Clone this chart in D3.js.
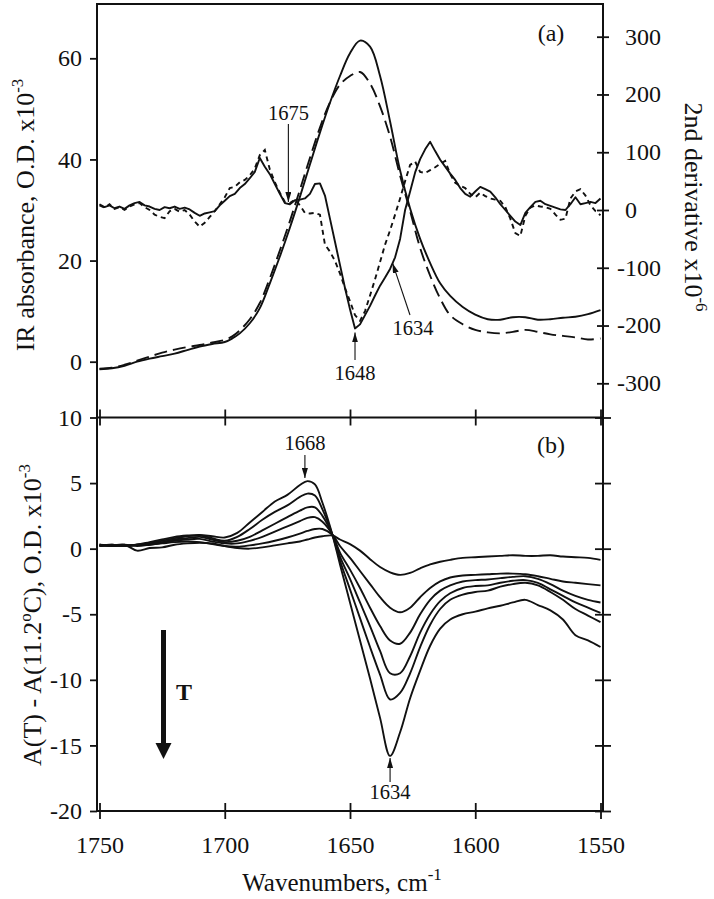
<!DOCTYPE html>
<html><head><meta charset="utf-8">
<script src="https://cdn.jsdelivr.net/npm/d3@7"></script>
<style>body{margin:0;background:#fff}svg{display:block}</style>
</head><body>
<svg id="c" width="714" height="899"></svg>
<script>
// ---------------- DATA ----------------
// Panel (a): absorbance (x10^-3), solid and dashed spectra
const wnAbs = [1750,1745,1740,1735,1730,1725,1720,1715,1710,1705,1700,1697,1694,1690,1686,1682,1678,1674,1670,1666,1662,1658,1654,1650,1646,1642,1638,1634,1630,1626,1622,1618,1614,1610,1605,1600,1595,1590,1585,1580,1575,1570,1565,1560,1555,1550];
const absSolid = [-1.5,-1.3,-0.8,0.0,0.6,1.1,1.6,2.3,3.0,3.5,3.9,4.6,5.6,7.6,10.6,15.5,20.8,26.5,32.6,39.0,45.3,51.2,56.5,61.0,63.5,62.3,56.5,47.5,37.8,30.3,24.3,19.5,15.5,13.0,10.8,9.3,8.4,8.3,8.8,8.8,8.3,8.4,8.7,8.9,9.4,10.2];
const absDashed = [-1.4,-1.2,-0.6,0.2,1.0,1.8,2.4,2.9,3.3,3.8,4.3,5.0,6.2,8.4,11.6,16.5,22.0,27.8,34.0,40.3,46.3,51.3,54.8,56.5,57.3,55.0,50.5,44.5,36.8,29.8,22.5,17.0,12.5,9.2,7.4,6.3,5.8,5.6,5.9,6.3,5.9,5.4,5.1,4.8,4.4,4.6];

// Panel (a): second derivative (x10^-6), solid and dotted
const wnDer = [1750,1748,1746,1744,1742,1740,1738,1736,1734,1732,1730,1728,1726,1724,1722,1720,1718,1716,1714,1712,1710,1708,1706,1704,1702,1700,1698,1696,1694,1692,1690,1688,1686,1684,1682,1680,1678,1676,1674,1672,1670,1668,1666,1664,1662,1660,1658,1656,1654,1652,1650,1648,1646,1644,1642,1640,1638,1636,1634,1632,1630,1628,1626,1624,1622,1620,1618,1616,1614,1612,1610,1608,1606,1604,1602,1600,1598,1596,1594,1592,1590,1588,1586,1584,1582,1580,1578,1576,1574,1572,1570,1568,1566,1564,1562,1560,1558,1556,1554,1552,1550];
const derSolid = [10,5,8,3,6,2,8,12,14,8,6,2,0,5,3,6,2,4,1,-5,-10,-6,-4,-2,8,16,24,28,38,45,55,66,90,75,62,45,28,12,10,17,18,20,28,45,46,25,-15,-55,-95,-135,-172,-205,-198,-182,-166,-148,-131,-117,-102,-82,-50,0,32,65,88,105,118,102,87,75,63,52,38,28,23,32,40,36,32,22,10,0,-10,-20,-26,-5,5,14,16,10,7,4,1,0,10,22,10,12,14,12,20];
const derDotted = [8,4,10,2,5,0,6,10,12,5,0,-8,-12,-14,-2,2,-3,0,-8,-20,-29,-22,-12,-2,10,22,38,40,48,52,60,72,95,104,70,48,30,14,12,18,8,-5,-6,-5,-8,-60,-72,-88,-110,-135,-158,-182,-192,-175,-148,-120,-90,-60,-35,-8,20,50,78,84,66,64,69,74,80,85,62,47,42,38,28,22,30,24,20,18,16,5,-15,-40,-45,-10,4,8,6,5,2,-8,-17,-15,20,32,36,25,8,-2,-9];

// Panel (b): difference spectra A(T)-A(11.2C) (x10^-3), six temperatures
const wnDiff = [1750,1745,1740,1735,1730,1725,1720,1715,1710,1705,1700,1695,1690,1685,1680,1675,1670,1667,1664,1661,1657,1654,1650,1646,1642,1638,1634,1630,1626,1622,1618,1614,1610,1605,1600,1595,1590,1585,1580,1575,1570,1565,1560,1555,1550];
const diff1 = [0.3,0.25,0.3,-0.15,0.05,0.1,0.3,0.4,0.45,0.4,0.2,0.05,0.0,0.1,0.25,0.4,0.55,0.7,0.85,0.95,1.0,0.7,0.35,-0.15,-0.8,-1.4,-1.8,-2.0,-1.85,-1.5,-1.2,-1.0,-0.85,-0.7,-0.65,-0.6,-0.55,-0.5,-0.55,-0.55,-0.5,-0.6,-0.65,-0.7,-0.85];
const diff2 = [0.2,0.3,0.2,0.3,0.3,0.4,0.5,0.55,0.5,0.35,0.2,0.15,0.25,0.4,0.6,0.85,1.15,1.35,1.5,1.5,1.05,0.2,-0.7,-1.7,-2.7,-3.7,-4.5,-4.85,-4.5,-3.7,-3.0,-2.5,-2.2,-2.05,-2.0,-1.95,-1.9,-1.9,-1.95,-2.1,-2.3,-2.5,-2.6,-2.7,-2.8];
const diff3 = [0.3,0.2,0.3,0.2,0.3,0.45,0.6,0.7,0.75,0.55,0.4,0.4,0.6,0.9,1.3,1.7,2.1,2.35,2.4,2.05,1.05,-0.3,-1.6,-3.0,-4.5,-5.9,-7.0,-7.25,-6.4,-5.0,-3.9,-3.2,-2.8,-2.5,-2.4,-2.35,-2.25,-2.15,-2.1,-2.3,-2.7,-3.2,-3.6,-3.9,-4.1];
const diff4 = [0.2,0.3,0.2,0.3,0.4,0.5,0.7,0.8,0.9,0.7,0.5,0.6,0.9,1.4,1.9,2.4,2.9,3.15,3.15,2.5,1.05,-0.6,-2.3,-4.1,-5.9,-7.8,-9.5,-9.5,-8.2,-6.4,-5.0,-4.0,-3.4,-3.0,-2.85,-2.8,-2.6,-2.45,-2.4,-2.6,-3.1,-3.6,-4.1,-4.5,-4.9];
const diff5 = [0.3,0.2,0.25,0.3,0.4,0.6,0.8,0.95,1.0,0.8,0.6,0.9,1.5,2.2,2.8,3.3,3.95,4.2,4.05,3.0,1.05,-0.9,-3.1,-5.3,-7.5,-9.6,-11.5,-11.0,-9.5,-7.5,-5.8,-4.6,-3.9,-3.5,-3.3,-3.2,-2.9,-2.7,-2.6,-2.8,-3.3,-3.9,-4.6,-5.1,-5.6];
const diff6 = [0.2,0.25,0.2,0.3,0.5,0.7,0.9,1.0,1.05,0.95,0.85,1.2,2.0,2.8,3.6,4.1,4.85,5.15,4.9,3.5,1.05,-1.2,-4.1,-7.0,-9.9,-12.9,-15.8,-14.0,-11.4,-9.3,-7.4,-6.1,-5.4,-5.0,-4.8,-4.55,-4.35,-4.1,-3.9,-4.3,-4.7,-5.4,-6.6,-7.0,-7.5];
const diffSeries = [diff1, diff2, diff3, diff4, diff5, diff6];

// Tick labels
const xTicks = [1750,1700,1650,1600,1550];
const absTicks = [0,20,40,60];
const derTicks = [300,200,100,0,-100,-200,-300];
const diffTicks = [10,5,0,-5,-10,-15,-20];

// ---------------- DRAWING ----------------
const FONT = '"Liberation Serif","Times New Roman",Times,serif';
const svg = d3.select('#c').attr('font-family', FONT);
const INK = '#111';
const L = 97, R = 603, TOP = 4, MID = 417.5, BOT = 811;
const fmt = d => String(d);

const x = d3.scaleLinear().domain([1750,1550]).range([99.5,600.5]);
const yAbs = d3.scaleLinear().domain([0,60]).range([361.7,58.3]);
const yDer = d3.scaleLinear().domain([-300,300]).range([383.3,36.7]);
const yDiff = d3.scaleLinear().domain([-20,10]).range([BOT, MID]);

const defs = svg.append('defs');
defs.append('clipPath').attr('id','clipA').append('rect').attr('x',L).attr('y',TOP).attr('width',R-L).attr('height',MID-TOP);
defs.append('clipPath').attr('id','clipB').append('rect').attr('x',L).attr('y',MID).attr('width',R-L).attr('height',BOT-MID);
defs.append('marker').attr('id','ah').attr('viewBox','0 0 10 6').attr('refX',10).attr('refY',3)
  .attr('markerWidth',10).attr('markerHeight',6).attr('markerUnits','userSpaceOnUse').attr('orient','auto')
  .append('path').attr('d','M0,0L10,3L0,6Z').attr('fill',INK);

// curves panel (a)
const gA = svg.append('g').attr('clip-path','url(#clipA)');
const lineAbs = d3.line().x((d,i)=>x(wnAbs[i])).y(d=>yAbs(d)).curve(d3.curveCatmullRom.alpha(0.5));
const lineDer = d3.line().x((d,i)=>x(wnDer[i])).y(d=>yDer(d)).curve(d3.curveLinear);
gA.append('path').attr('d',lineAbs(absSolid)).attr('fill','none').attr('stroke',INK).attr('stroke-width',1.9);
gA.append('path').attr('d',lineAbs(absDashed)).attr('fill','none').attr('stroke',INK).attr('stroke-width',1.9).attr('stroke-dasharray','13,6');
gA.append('path').attr('d',lineDer(derSolid)).attr('fill','none').attr('stroke',INK).attr('stroke-width',1.9).attr('stroke-linejoin','round');
gA.append('path').attr('d',lineDer(derDotted)).attr('fill','none').attr('stroke',INK).attr('stroke-width',1.9).attr('stroke-dasharray','5,4');

// curves panel (b)
const gB = svg.append('g').attr('clip-path','url(#clipB)');
const lineDiff = d3.line().x((d,i)=>x(wnDiff[i])).y(d=>yDiff(d)).curve(d3.curveCatmullRom.alpha(0.5));
diffSeries.forEach(s=>{
  gB.append('path').attr('d',lineDiff(s)).attr('fill','none').attr('stroke',INK).attr('stroke-width',1.9);
});

// frame
const frame = svg.append('g').attr('stroke',INK).attr('stroke-width',2).attr('fill','none');
frame.append('rect').attr('x',L).attr('y',TOP).attr('width',R-L).attr('height',BOT-TOP);
frame.append('line').attr('x1',L).attr('x2',R).attr('y1',MID).attr('y2',MID);

function styleAxis(g){
  g.attr('font-family',FONT);
  g.select('.domain').remove();
  g.selectAll('line').attr('stroke',INK).attr('stroke-width',1.8);
  g.selectAll('text').attr('font-size',24).attr('fill',INK).attr('font-family',FONT);
}

// left axes
svg.append('g').attr('transform',`translate(${L},0)`)
  .call(d3.axisLeft(yAbs).tickValues(absTicks).tickSize(7).tickPadding(8).tickFormat(fmt)).call(styleAxis);
svg.append('g').attr('transform',`translate(${L},0)`)
  .call(d3.axisLeft(yDiff).tickValues(diffTicks).tickSize(7).tickPadding(8).tickFormat(fmt)).call(styleAxis);

// right axis (a) crossing ticks with labels
const ra = svg.append('g').attr('transform',`translate(${R},0)`)
  .call(d3.axisRight(yDer).tickValues(derTicks).tickSize(6).tickFormat('')).call(styleAxis);
ra.selectAll('.tick line').attr('x1',-6).attr('x2',6);
const rl = svg.append('g').attr('font-size',24).attr('fill',INK);
derTicks.forEach(v=>{
  rl.append('text').attr('x',625).attr('y',yDer(v)).attr('dy','0.33em').attr('text-anchor','start').text(Math.abs(v));
  if(v<0) rl.append('text').attr('x',625).attr('y',yDer(v)).attr('dy','0.33em').attr('text-anchor','end').text('-');
});
// right axis (b) crossing ticks, no labels
const rb = svg.append('g').attr('transform',`translate(${R},0)`)
  .call(d3.axisRight(yDiff).tickValues(diffTicks).tickSize(7).tickFormat('')).call(styleAxis);
rb.selectAll('.tick line').attr('x1',-8).attr('x2',8);

// x axes: bottom with labels, middle crossing ticks
const xb = svg.append('g').attr('transform',`translate(0,${BOT})`)
  .call(d3.axisBottom(x).tickValues(xTicks).tickSize(7).tickPadding(0).tickFormat(fmt)).call(styleAxis);
xb.selectAll('.tick line').attr('y1',-8).attr('y2',8);
xb.selectAll('.tick text').attr('y',42).attr('dy',0);
const xm = svg.append('g').attr('transform',`translate(0,${MID})`)
  .call(d3.axisBottom(x).tickValues(xTicks).tickSize(7).tickFormat('')).call(styleAxis);
xm.selectAll('.tick line').attr('y1',-8).attr('y2',8);

// axis titles
const t1 = svg.append('text').attr('transform','translate(34,215) rotate(-90)').attr('text-anchor','middle').attr('font-size',26).attr('fill',INK);
t1.append('tspan').text('IR absorbance, O.D. x10');
t1.append('tspan').attr('dy',-11).attr('font-size',17).text('-3');

const t2 = svg.append('text').attr('transform','translate(41,615) rotate(-90)').attr('text-anchor','middle').attr('font-size',26).attr('fill',INK);
t2.append('tspan').text('A(T) - A(11.2');
t2.append('tspan').attr('dy',-10).attr('font-size',17).text('o');
t2.append('tspan').attr('dy',10).text('C), O.D. x10');
t2.append('tspan').attr('dy',-11).attr('font-size',17).text('-3');

const t3 = svg.append('text').attr('transform','translate(685,207) rotate(90)').attr('text-anchor','middle').attr('font-size',26).attr('fill',INK);
t3.append('tspan').text('2nd derivative x10');
t3.append('tspan').attr('dy',-11).attr('font-size',17).text('-6');

const t4 = svg.append('text').attr('x',342).attr('y',891).attr('text-anchor','middle').attr('font-size',25).attr('fill',INK);
t4.append('tspan').text('Wavenumbers, cm');
t4.append('tspan').attr('dy',-11).attr('font-size',17).text('-1');

// panel letters
svg.append('text').attr('x',551).attr('y',33).attr('dy','0.35em').attr('text-anchor','middle').attr('font-size',24).attr('fill',INK).text('(a)');
svg.append('text').attr('x',551).attr('y',445).attr('dy','0.35em').attr('text-anchor','middle').attr('font-size',24).attr('fill',INK).text('(b)');

// annotations
const ann = svg.append('g').attr('font-size',20.5).attr('fill',INK);
function arrow(x1,y1,x2,y2){
  svg.append('line').attr('x1',x1).attr('y1',y1).attr('x2',x2).attr('y2',y2)
    .attr('stroke',INK).attr('stroke-width',1.1).attr('marker-end','url(#ah)');
}
function label(tx,ty,s){ ann.append('text').attr('x',tx).attr('y',ty).attr('dy','0.35em').attr('text-anchor','middle').text(s); }

label(x(1675)+1,113,'1675'); arrow(x(1675)+1,124,x(1675)+1,yDer(12)-1);
label(x(1648),373,'1648'); arrow(x(1648),360,x(1648),yDer(-212));
label(413,328,'1634'); arrow(410,315,x(1633),yDer(-92));
label(x(1668),443,'1668'); arrow(x(1668),455,x(1668),yDiff(5.15)-3);
label(x(1634),792,'1634'); arrow(x(1634),782,x(1634),yDiff(-15.8)+2);

// temperature arrow
svg.append('line').attr('x1',163.5).attr('x2',163.5).attr('y1',630).attr('y2',746).attr('stroke',INK).attr('stroke-width',5);
svg.append('path').attr('d','M155.5,743L171.5,743L163.5,759Z').attr('fill',INK);
svg.append('text').attr('x',184).attr('y',692).attr('dy','0.35em').attr('text-anchor','middle').attr('font-size',24).attr('font-weight','bold').attr('fill',INK).text('T');
</script>
</body></html>
